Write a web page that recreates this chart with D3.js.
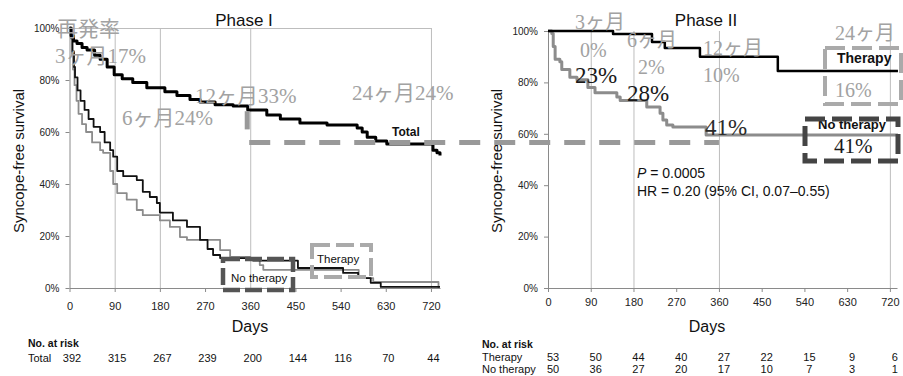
<!DOCTYPE html>
<html>
<head>
<meta charset="utf-8">
<script src="https://cdn.jsdelivr.net/npm/d3@7"></script>
<style>
  body { margin: 0; background: #fff; }
  svg { display: block; font-family: Arial, "Liberation Sans", sans-serif; }
</style>
</head>
<body>
<svg></svg>
<script>
const width = 903;
const height = 376;

const dayTicks = [0, 90, 180, 270, 360, 450, 540, 630, 720];
const pctTicks = [0, 20, 40, 60, 80, 100];
const gridDays = [90, 180, 360, 720];

// Phase I curves: [day, % syncope-free]
const totalCurve = [[0,100],[3,97],[8,95],[15,94],[25,92.5],[35,91.5],[50,89.5],[61,88],[75,85],[89,82],
  [105,80.5],[126,79],[154,77],[174,77],[190,75.5],[214,74],[240,72.5],[260,71.5],[290,70.5],[326,70],
  [355,68.5],[393,66.5],[420,65],[459,63.5],[513,62.7],[573,61.5],[583,60],[593,58],[610,56.5],[632,55.4],
  [718,55.4],[724,53],[732,52],[738,51]];
const p1NoTherapy = [[0,100],[4,96],[6,91],[9,85],[11,81],[16,76],[22,72],[30,68.5],[38,65],[48,62],[61,60],
  [70,56],[81,53],[87,50.5],[95,45],[107,43],[134,41.5],[146,37],[160,35],[174,32.7],[180,29],[206,26],
  [234,23.5],[260,18.5],[275,15],[286,12.7],[300,11.5],[366,10.5],[455,7.7],[545,5.8],[575,3.8],[600,2],
  [620,0.4],[738,0.4]];
const p1Therapy = [[0,100],[3,96],[5,90],[7,84],[10,78],[14,72],[18,67],[25,63],[33,60],[45,56],[61,53],
  [67,52],[81,45],[87,40],[95,36.5],[114,34],[134,30],[146,28],[180,26],[200,23.5],[220,19.6],[234,18.5],
  [300,14.6],[320,12],[360,10.8],[379,8.8],[386,7],[576,3.8],[605,2.3],[733,2.3],[735,0]];

// Phase II curves
const p2Therapy = [[0,100],[137,98.8],[219,95.7],[246,93.4],[320,90],[484,84.4],[737,84.4]];
const p2NoTherapy = [[0,100],[8,99],[11,94],[15,89],[25,88],[29,85],[46,82],[61,81],[84,78],[99,76],
  [145,74.3],[152,73],[208,70.4],[236,68],[242,65.4],[250,63.4],[263,62.6],[333,59.5],[737,59.5]];

const riskTotal = [392, 315, 267, 239, 200, 144, 116, 70, 44];
const riskTherapy = [53, 50, 44, 40, 27, 22, 15, 9, 6];
const riskNoTherapy = [50, 36, 27, 20, 17, 10, 7, 3, 1];

const svg = d3.select("svg")
  .attr("width", width)
  .attr("height", height);

svg.append("rect").attr("width", width).attr("height", height).attr("fill", "#fff");

const x1 = d3.scaleLinear().domain([0, 738]).range([69.5, 440]);
const y1 = d3.scaleLinear().domain([0, 100]).range([288, 28]);
const x2 = d3.scaleLinear().domain([0, 735]).range([548, 897]);
const y2 = d3.scaleLinear().domain([0, 100]).range([288, 31]);

function panel(x, y, labelPad, topBorder) {
  const g = svg.append("g");
  g.append("g").selectAll("line")
    .data(gridDays)
    .join("line")
    .attr("x1", d => x(d) + 0.5).attr("x2", d => x(d) + 0.5)
    .attr("y1", y(100)).attr("y2", y(0))
    .attr("stroke", "#bdbdbd");
  if (topBorder) {
    g.append("line")
      .attr("x1", x(0)).attr("x2", x(720))
      .attr("y1", y(100) + 0.5).attr("y2", y(100) + 0.5)
      .attr("stroke", "#bdbdbd");
  }
  const xa = g.append("g")
    .attr("transform", `translate(0,${y(0)})`)
    .call(d3.axisBottom(x).tickValues(dayTicks).tickSize(4).tickSizeOuter(0).tickPadding(labelPad));
  const ya = g.append("g")
    .attr("transform", `translate(${x(0)},0)`)
    .call(d3.axisLeft(y).tickValues(pctTicks).tickFormat(d => d + "%").tickSize(4).tickSizeOuter(0).tickPadding(6));
  [xa, ya].forEach(a => {
    a.attr("font-family", "Arial, 'Liberation Sans', sans-serif");
    a.selectAll("path, line").attr("stroke", "#8a8a8a");
    a.selectAll("text").attr("fill", "#222");
  });
  xa.attr("font-size", 11);
  ya.attr("font-size", 10);
  return g;
}

const line1 = d3.line().x(d => x1(d[0])).y(d => y1(d[1])).curve(d3.curveStepAfter);
const line2 = d3.line().x(d => x2(d[0])).y(d => y2(d[1])).curve(d3.curveStepAfter);

const g1 = panel(x1, y1, 10, true);
const g2 = panel(x2, y2, 6, false);

function curve(g, data, line, color, w) {
  g.append("path")
    .datum(data)
    .attr("d", line)
    .attr("fill", "none")
    .attr("stroke", color)
    .attr("stroke-width", w)
    .attr("stroke-linejoin", "round");
}

curve(g1, p1Therapy, line1, "#8c8c8c", 1.8);
curve(g1, p1NoTherapy, line1, "#111", 1.8);
curve(g1, totalCurve, line1, "#000", 3);
curve(g2, p2NoTherapy, line2, "#8c8c8c", 3);
curve(g2, p2Therapy, line2, "#000", 2.5);

// titles and axis labels
function label(x, y, text, size, opts = {}) {
  return svg.append("text")
    .attr("x", x).attr("y", y)
    .attr("font-size", size)
    .attr("text-anchor", opts.anchor || "start")
    .attr("font-weight", opts.weight || "normal")
    .attr("font-family", opts.family || "Arial, 'Liberation Sans', sans-serif")
    .attr("fill", opts.fill || "#111")
    .text(text);
}

label(244, 26, "Phase I", 17, { anchor: "middle" });
label(706, 26, "Phase II", 17, { anchor: "middle" });
label(250, 332, "Days", 16, { anchor: "middle" });
label(707, 332, "Days", 16, { anchor: "middle" });

svg.append("text")
  .attr("transform", "translate(24,161) rotate(-90)")
  .attr("text-anchor", "middle").attr("font-size", 15).attr("fill", "#111")
  .text("Syncope-free survival");
svg.append("text")
  .attr("transform", "translate(502,161) rotate(-90)")
  .attr("text-anchor", "middle").attr("font-size", 15).attr("fill", "#111")
  .text("Syncope-free survival");

// numbers at risk
label(28, 347, "No. at risk", 10.5, { weight: "bold" });
label(28, 362, "Total", 11);
svg.append("g").selectAll("text")
  .data(riskTotal)
  .join("text")
  .attr("x", (d, i) => x1(dayTicks[i]) + 2.5)
  .attr("y", 362)
  .attr("text-anchor", "middle").attr("font-size", 11).attr("fill", "#111")
  .text(d => d);

label(482, 348, "No. at risk", 10.5, { weight: "bold" });
label(482, 361, "Therapy", 11);
label(482, 373, "No therapy", 11);
[[riskTherapy, 361], [riskNoTherapy, 373]].forEach(([row, yy]) => {
  svg.append("g").selectAll("text")
    .data(row)
    .join("text")
    .attr("x", (d, i) => x2(dayTicks[i]) + 5)
    .attr("y", yy)
    .attr("text-anchor", "middle").attr("font-size", 11).attr("fill", "#111")
    .text(d => d);
});

// curve labels
label(392, 136, "Total", 12, { weight: "bold" });
label(231, 282, "No therapy", 11.5);
label(317, 263, "Therapy", 11.5);
label(837, 63, "Therapy", 14, { weight: "bold" });
label(818, 129, "No therapy", 13, { weight: "bold" });

// P value
const pText = svg.append("text").attr("x", 637).attr("y", 178).attr("font-size", 14).attr("fill", "#111");
pText.append("tspan").attr("font-style", "italic").text("P");
pText.append("tspan").text(" = 0.0005");
label(637, 196, "HR = 0.20 (95% CI, 0.07\u20130.55)", 14);

// dashed boxes
function box(x, y, w, h, color, sw, dash) {
  svg.append("rect")
    .attr("x", x).attr("y", y).attr("width", w).attr("height", h)
    .attr("fill", "none").attr("stroke", color)
    .attr("stroke-width", sw).attr("stroke-dasharray", dash);
}
box(223, 259, 70, 31, "#555", 4.5, "17,5");
box(312, 245, 59, 32, "#aaa", 4, "18,6");
box(825, 48, 76, 56, "#aaa", 4, "20,7");
box(805, 119, 93, 42, "#444", 5, "20,7");

// 24-month reference line
svg.append("line")
  .attr("x1", x1(358)).attr("x2", x2(360))
  .attr("y1", y1(56)).attr("y2", y1(56))
  .attr("stroke", "#999").attr("stroke-width", 5)
  .attr("stroke-dasharray", "21,14");
svg.append("line")
  .attr("x1", x1(354)).attr("x2", x1(354))
  .attr("y1", y1(68)).attr("y2", y1(61))
  .attr("stroke", "#999").attr("stroke-width", 5);

// Japanese annotations
const jp = "'Liberation Serif', 'Noto Sans CJK JP', serif";
const gray = "#a2a2a2";
label(57, 36, "再発率", 21, { family: jp, fill: gray });
label(55, 63, "3ヶ月17%", 21, { family: jp, fill: gray });
label(122, 125, "6ヶ月24%", 21, { family: jp, fill: gray });
label(195, 103, "12ヶ月33%", 21, { family: jp, fill: gray });
label(352, 100, "24ヶ月24%", 21, { family: jp, fill: gray });

label(575, 29, "3ヶ月", 20, { family: jp, fill: gray });
label(580, 57, "0%", 20, { family: jp, fill: gray });
label(627, 47, "6ヶ月", 20, { family: jp, fill: gray });
label(638, 74, "2%", 20, { family: jp, fill: gray });
label(703, 55, "12ヶ月", 20, { family: jp, fill: gray });
label(703, 82, "10%", 20, { family: jp, fill: gray });
label(835, 40, "24ヶ月", 20, { family: jp, fill: gray });
label(835, 97, "16%", 20, { family: jp, fill: gray });

label(575, 83, "23%", 23, { family: jp, fill: "#1a1a1a" });
label(627, 101, "28%", 23, { family: jp, fill: "#1a1a1a" });
label(705, 135, "41%", 23, { family: jp, fill: "#2a2a2a" });
label(834, 153, "41%", 21, { family: jp, fill: "#1a1a1a" });
</script>
</body>
</html>
